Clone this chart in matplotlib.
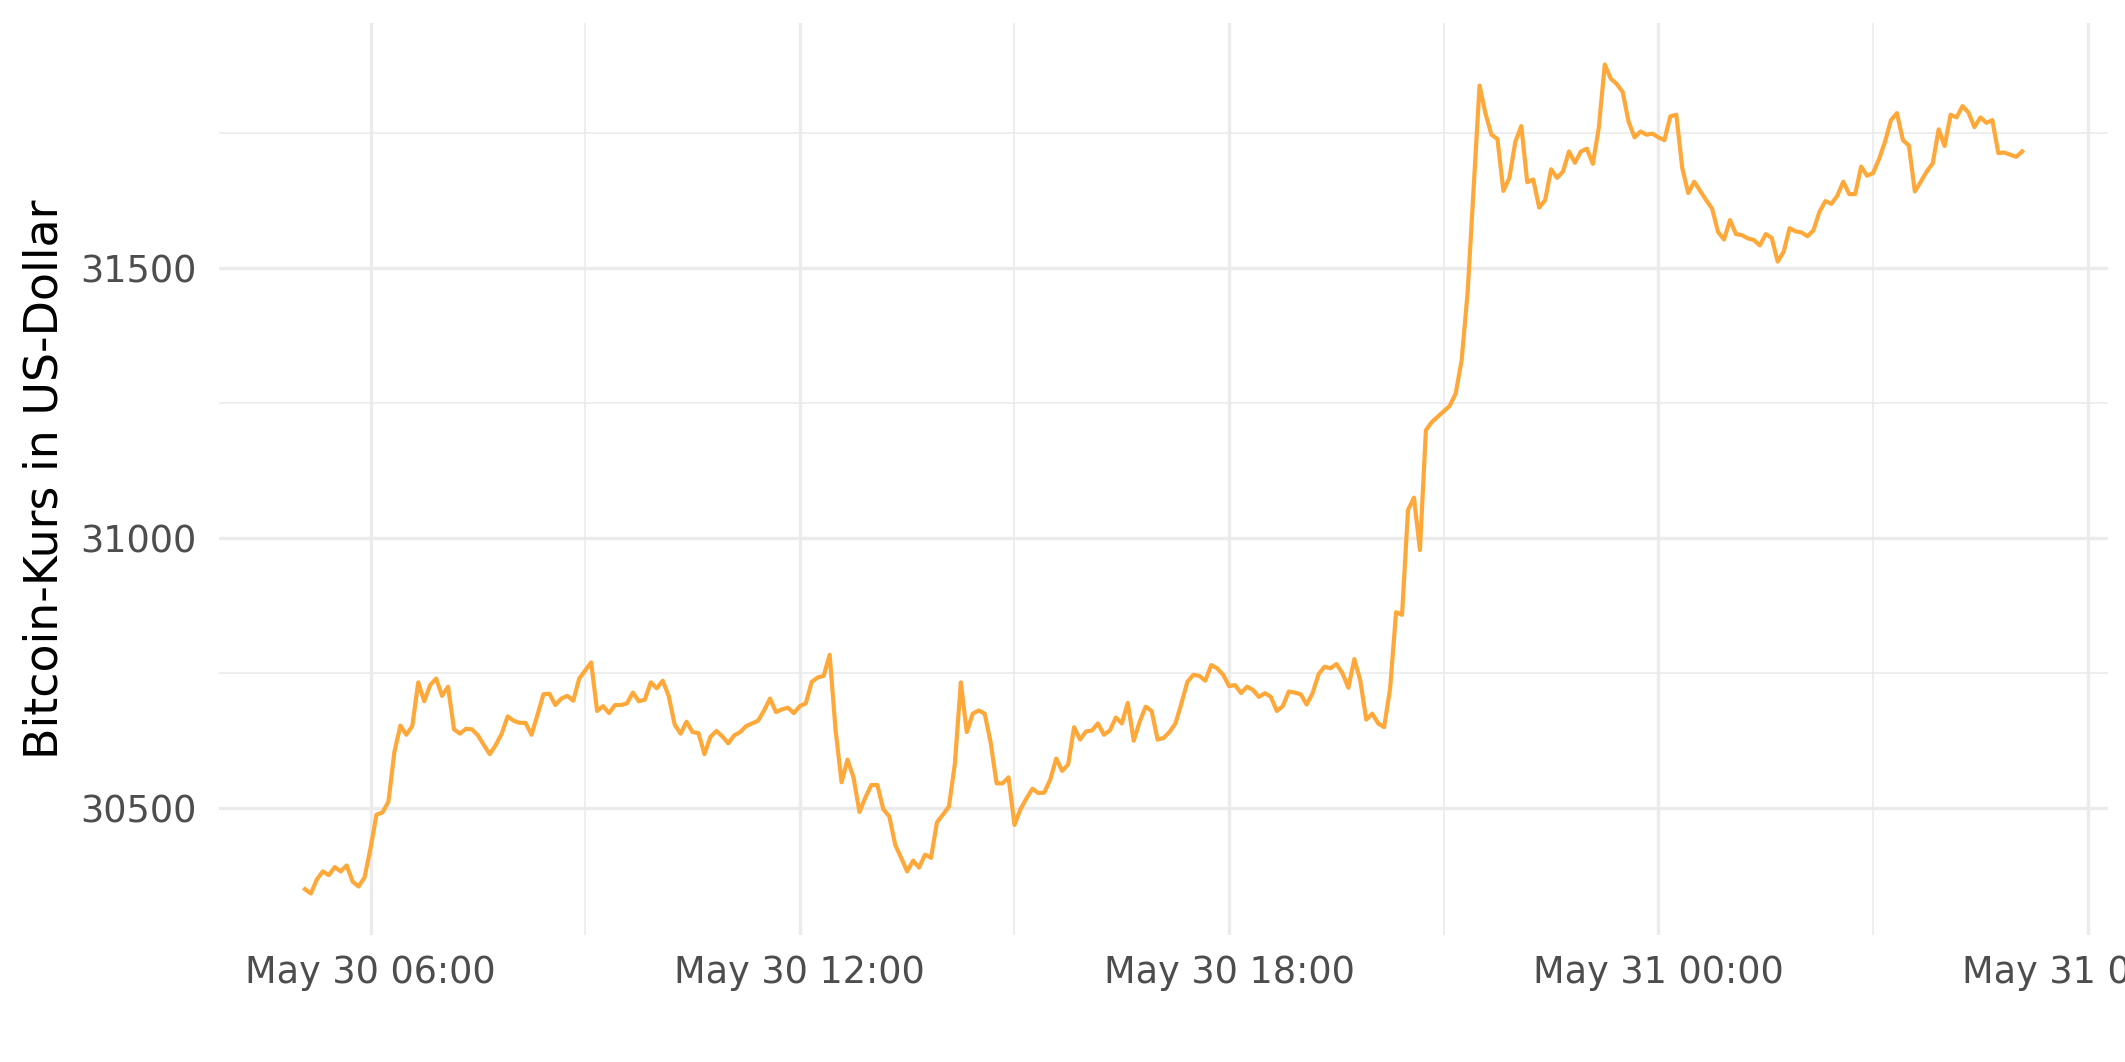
#!/usr/bin/env python3
"""Bitcoin price over one day (5-minute steps), ggplot-minimal look."""

import matplotlib

matplotlib.use("Agg")

import matplotlib.dates as mdates
import matplotlib.pyplot as plt
import pandas as pd

START_TIME = "2022-05-30 05:05"
STEP = "5min"

# prices, one value every 5 minutes
PRICES_MORNING = [
    30350, 30342, 30368, 30383, 30376, 30391, 30383, 30394, 30364, 30355,
    30372, 30426, 30488, 30492, 30512, 30604, 30653, 30636, 30652, 30733,
    30698, 30728, 30740, 30708, 30725, 30646, 30638, 30647, 30646, 30635,
    30617, 30600, 30617, 30638, 30670, 30662, 30658, 30658, 30636, 30673,
    30711, 30712, 30691, 30703, 30708, 30699, 30740, 30755, 30770,
]
PRICES_MIDDAY = [
    30680, 30689, 30676, 30691, 30691, 30694, 30714, 30698, 30701, 30733,
    30722, 30736, 30708, 30655, 30638, 30660, 30641, 30639, 30600, 30632,
    30643, 30633, 30620, 30635, 30641, 30652, 30657, 30662, 30681, 30703,
    30678, 30683, 30686, 30676, 30689, 30694, 30734, 30742, 30745, 30784,
    30644, 30548, 30590, 30557, 30493, 30520, 30543, 30543,
]
PRICES_AFTERNOON = [
    30498, 30485, 30432, 30408, 30383, 30403, 30390, 30414, 30408, 30474,
    30488, 30503, 30582, 30733, 30641, 30675, 30681, 30675, 30622, 30546,
    30546, 30557, 30469, 30498, 30518, 30536, 30528, 30529, 30553, 30592,
    30569, 30581, 30650, 30627, 30642, 30644, 30657, 30636, 30644, 30668,
    30657, 30695, 30625, 30660, 30688, 30680, 30627, 30630, 30641,
]
PRICES_EVENING = [
    30657, 30694, 30734, 30747, 30745, 30736, 30765, 30759, 30747, 30726,
    30728, 30713, 30725, 30719, 30706, 30713, 30706, 30680, 30689, 30716,
    30714, 30711, 30692, 30713, 30748, 30762, 30759, 30767, 30750, 30723,
    30776, 30736, 30664, 30675, 30657, 30650, 30722, 30863, 30858, 31052,
    31075, 30978, 31200, 31215, 31225, 31235,
]
PRICES_NIGHT = [
    31245, 31268, 31330, 31455, 31646, 31838, 31786, 31747, 31739, 31643,
    31667, 31734, 31763, 31659, 31664, 31612, 31626, 31683, 31667, 31679,
    31716, 31695, 31716, 31721, 31693, 31760, 31877, 31851, 31841, 31826,
    31771, 31742, 31753, 31747, 31749, 31742, 31737, 31781, 31784, 31685,
    31639, 31660, 31643, 31626, 31610, 31567, 31553, 31589, 31563, 31561,
    31555,
]
PRICES_EARLY = [
    31552, 31542, 31563, 31556, 31512, 31530, 31574, 31568, 31566, 31559,
    31570, 31604, 31624, 31619, 31634, 31660, 31637, 31637, 31688, 31671,
    31676, 31702, 31734, 31774, 31787, 31737, 31727, 31642, 31660, 31679,
    31694, 31757, 31726, 31784, 31779, 31800, 31788, 31761, 31779, 31769,
    31774, 31713, 31714, 31710, 31706, 31716,
]

Y_LABEL = "Bitcoin-Kurs in US-Dollar"
LINE_COLOR = "#FFA83A"
GRID_COLOR = "#EBEBEB"
TEXT_COLOR = "#4D4D4D"


def main() -> None:
    prices = (
        PRICES_MORNING + PRICES_MIDDAY + PRICES_AFTERNOON
        + PRICES_EVENING + PRICES_NIGHT + PRICES_EARLY
    )
    times = pd.date_range(START_TIME, periods=len(prices), freq=STEP)
    df = pd.DataFrame({"time": times, "price": prices})

    fig = plt.figure(figsize=(2125 / 300, 1062 / 300), dpi=300)
    ax = fig.add_axes([0.1031, 0.1196, 0.8889, 0.8587])
    ax.plot(df["time"], df["price"], color=LINE_COLOR, linewidth=1.0)

    # ggplot-like 5% expansion
    t0, t1 = df["time"].min(), df["time"].max()
    pad_t = (t1 - t0) * 0.05
    ax.set_xlim(t0 - pad_t, t1 + pad_t)
    p0, p1 = df["price"].min(), df["price"].max()
    pad_p = (p1 - p0) * 0.05
    ax.set_ylim(p0 - pad_p, p1 + pad_p)

    ax.xaxis.set_major_locator(mdates.HourLocator(byhour=[0, 6, 12, 18]))
    ax.xaxis.set_minor_locator(mdates.HourLocator(byhour=[3, 9, 15, 21]))
    ax.xaxis.set_major_formatter(mdates.DateFormatter("%b %d %H:%M"))
    ax.set_yticks([30500, 31000, 31500])
    ax.set_yticks([30750, 31250, 31750], minor=True)

    ax.grid(True, which="major", color=GRID_COLOR, linewidth=0.8)
    ax.grid(True, which="minor", color=GRID_COLOR, linewidth=0.4)
    ax.set_axisbelow(True)
    for spine in ax.spines.values():
        spine.set_visible(False)
    ax.tick_params(which="both", length=0)
    ax.tick_params(axis="y", labelsize=8.8, labelcolor=TEXT_COLOR, pad=5.5)
    ax.tick_params(axis="x", labelsize=8.8, labelcolor=TEXT_COLOR, pad=4.5)

    ax.set_ylabel(Y_LABEL, fontsize=11, color="black", family="DejaVu Sans", va="center")
    ax.yaxis.set_label_coords(-0.092, 0.5)

    fig.savefig("out.png", dpi=300, facecolor="white")
    plt.close(fig)


if __name__ == "__main__":
    main()
